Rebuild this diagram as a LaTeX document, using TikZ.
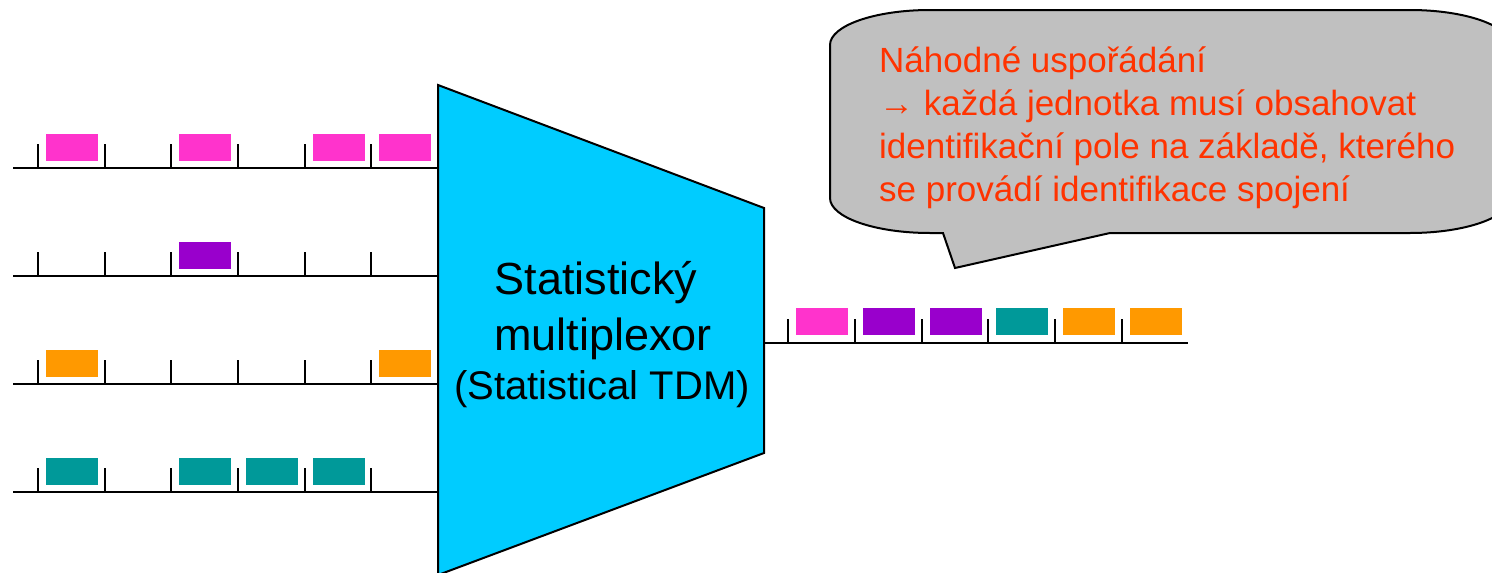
\documentclass[tikz,border=0pt]{standalone}
\usepackage{fontspec}
\setmainfont{Liberation Sans}
\definecolor{cellpink}{HTML}{FF33CC}
\definecolor{cellpurple}{HTML}{9900CC}
\definecolor{cellorange}{HTML}{FF9900}
\definecolor{cellteal}{HTML}{009999}
\definecolor{muxcyan}{HTML}{00CCFF}
\definecolor{bubblegray}{HTML}{C0C0C0}
\definecolor{notered}{HTML}{FF3300}
\tikzset{
  wire/.style={line width=2pt, black},
  tick/.style={line width=2pt, black},
  cell/.style={draw=none, minimum width=52pt, minimum height=27pt, inner sep=0pt, outer sep=0pt, anchor=south west},
  outline/.style={line width=2pt, black, line join=miter},
  notetext/.style={text=notered, anchor=base west, inner sep=0pt, font=\fontsize{35}{42}\selectfont},
  muxbig/.style={anchor=base, inner sep=0pt, font=\fontsize{45}{52}\selectfont},
  muxsmall/.style={anchor=base, inner sep=0pt, font=\fontsize{40}{48}\selectfont}
}
\begin{document}
\begin{tikzpicture}[x=1pt,y=1pt]
\useasboundingbox (0,0) rectangle (1492,-573);
\clip (0,0) rectangle (1492,-573);

% speech bubble with a downward tail
\draw[outline, fill=bubblegray]
  (930,-10) -- (1410,-10)
  arc[start angle=90, end angle=0, x radius=100, y radius=35] -- (1510,-198)
  arc[start angle=0, end angle=-90, x radius=100, y radius=35] -- (1110,-233)
  -- (955,-268) -- (943,-233) -- (930,-233)
  arc[start angle=270, end angle=180, x radius=100, y radius=35] -- (830,-45)
  arc[start angle=180, end angle=90, x radius=100, y radius=35] -- cycle;
\node[notetext] (note1) at (879,-72) {Náhodné uspořádání};
\node[notetext] (note2) at (879,-115) {→ každá jednotka musí obsahovat};
\node[notetext] (note3) at (879,-158) {identifikační pole na základě, kterého};
\node[notetext] (note4) at (879,-201) {se provádí identifikace spojení};

% multiplexer body
\coordinate (mTL) at (438,-85);
\coordinate (mTR) at (764,-208);
\coordinate (mBR) at (764,-453);
\coordinate (mBL) at (438,-575);
\draw[outline, fill=muxcyan] (mTL) -- (mTR) -- (mBR) -- (mBL) -- cycle;
\node[muxbig] (mux1) at (596,-294) {Statistický};
\node[muxbig] (mux2) at (603,-350) {multiplexor};
\node[muxsmall] (mux3) at (602,-399) {(Statistical TDM)};

% input channels: line, slot ticks, occupied slots
\foreach \row/\yy/\col/\slots in {a/168/cellpink/{0,2,4,5}, b/276/cellpurple/{2}, c/384/cellorange/{0,5}, d/492/cellteal/{0,2,3,4}} {
  \coordinate (in-\row) at (13,-\yy);
  \draw[wire] (in-\row) -- (in-\row -| mTL);
  \foreach \k in {0,...,5}
    \draw[tick] ({38+66.67*\k},-\yy) -- ++(0,24);
  \foreach \s in \slots
    \node[cell, fill=\col] (cell-\row-\s) at ({46+66.67*\s},{-\yy+7}) {};
}

% output channel
\coordinate (out-end) at (1188,-343);
\draw[wire] (mTR |- out-end) -- (out-end);
\foreach \k in {0,...,5}
  \draw[tick] ({788.3+66.67*\k},-343) -- ++(0,24);
\foreach \s/\col in {0/cellpink, 1/cellpurple, 2/cellpurple, 3/cellteal, 4/cellorange, 5/cellorange}
  \node[cell, fill=\col] (cell-out-\s) at ({796.3+66.67*\s},-335) {};
\end{tikzpicture}
\end{document}
